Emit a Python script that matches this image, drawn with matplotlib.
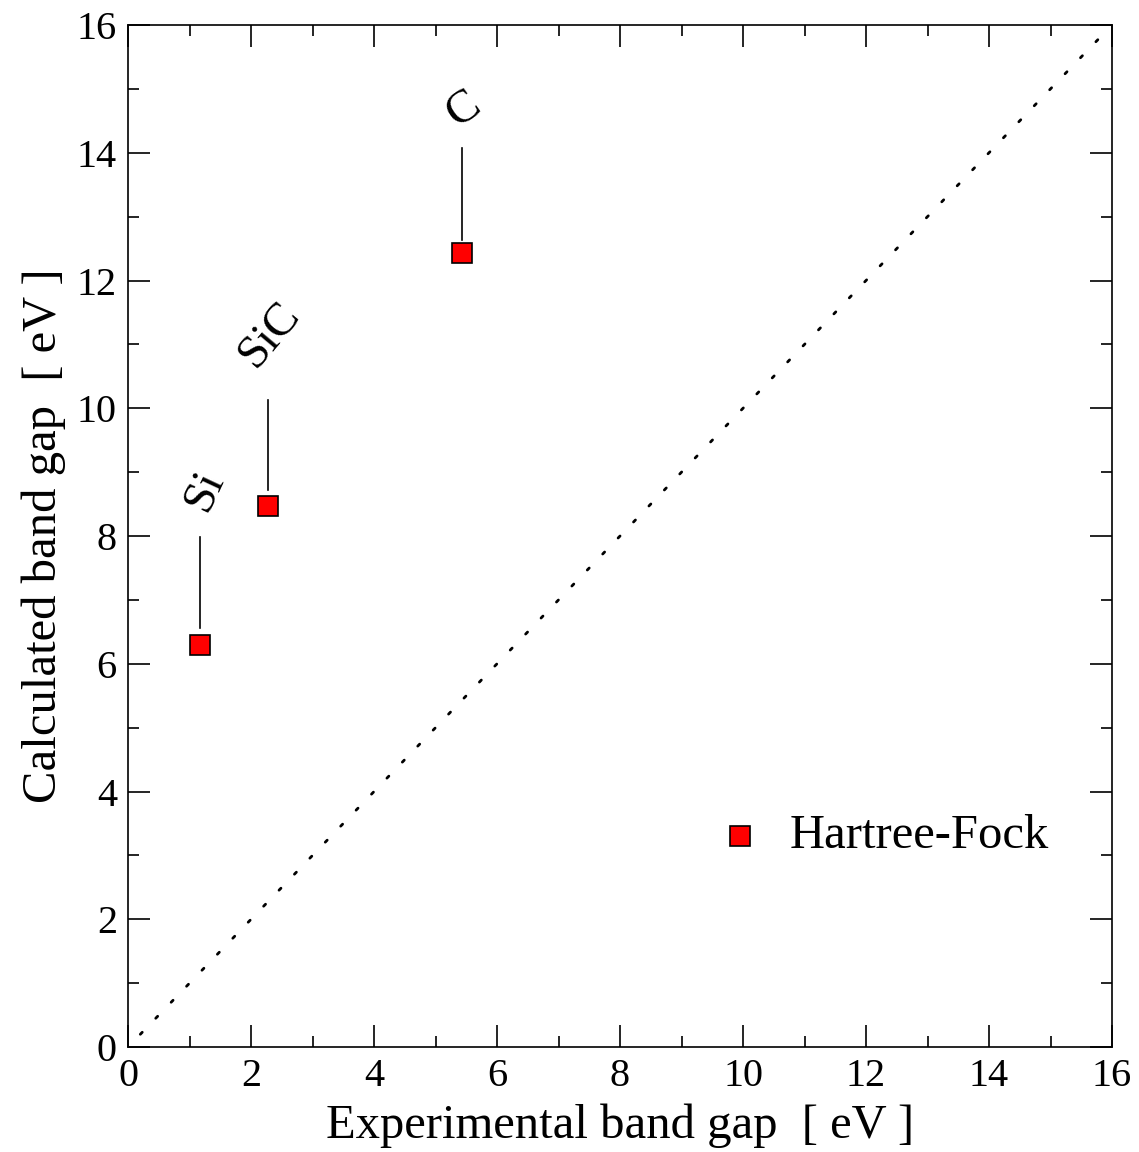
import matplotlib
matplotlib.use("Agg")
from matplotlib import pyplot as plt
from matplotlib.ticker import MultipleLocator

# band gaps [eV]
materials = ["Si", "SiC", "C"]
exp_gap = [1.17, 2.28, 5.43]
hf_gap = [6.29, 8.47, 12.43]

# vertical label lines (start, end) and label positions
line_lo = [6.56, 8.72, 12.63]
line_hi = [7.98, 10.13, 14.07]
label_x = [1.25, 2.31, 5.45]
label_y = [8.72, 11.15, 14.67]
label_rot = [65, 50, 35]

diag = [0.2, 15.8]

plt.rcParams['font.family'] = ['Liberation Serif', 'DejaVu Serif']

fig = plt.figure(figsize=(11.39, 11.52), dpi=100)
ax = fig.add_axes([0.1124, 0.0911, 0.8639, 0.8872])

ax.plot(diag, diag, color='black', linestyle=(0, (1, 7)), linewidth=2.0, dash_capstyle='round')

for i, name in enumerate(materials):
    ax.plot([exp_gap[i], exp_gap[i]], [line_lo[i], line_hi[i]], color='black', linewidth=1.2)
    ax.text(label_x[i], label_y[i], name, rotation=label_rot[i], ha='center', va='center', fontsize=34)

ax.plot(exp_gap, hf_gap, linestyle='none', marker='s', markersize=14,
        markerfacecolor='#ff0000', markeredgecolor='black', markeredgewidth=1.2)

# legend entry
ax.plot([9.95], [3.3], linestyle='none', marker='s', markersize=14,
        markerfacecolor='#ff0000', markeredgecolor='black', markeredgewidth=1.2)
ax.text(10.75, 3.3, "Hartree-Fock", ha='left', va='center', fontsize=35)

ax.set_xlim(0, 16)
ax.set_ylim(0, 16)
ax.xaxis.set_major_locator(MultipleLocator(2))
ax.yaxis.set_major_locator(MultipleLocator(2))
ax.xaxis.set_minor_locator(MultipleLocator(1))
ax.yaxis.set_minor_locator(MultipleLocator(1))
ax.tick_params(which='both', direction='in', top=True, right=True, width=1.2, labelsize=29)
ax.tick_params(which='major', length=16, pad=8)
ax.tick_params(which='minor', length=8)
for s in ax.spines.values():
    s.set_linewidth(1.2)

ax.set_xlabel("Experimental band gap  [ eV ]", fontsize=35, labelpad=6)
ax.set_ylabel("Calculated band gap  [ eV ]", fontsize=35, labelpad=8)

plt.savefig("out.png", dpi=100)
